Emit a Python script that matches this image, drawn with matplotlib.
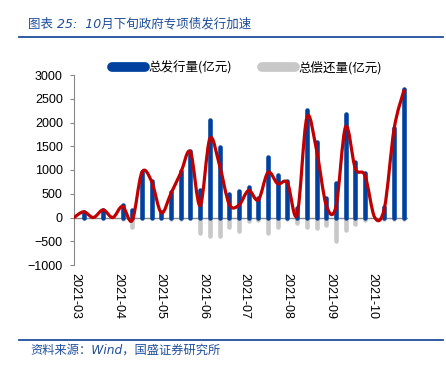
import matplotlib
matplotlib.use('Agg')
import matplotlib.pyplot as plt
import matplotlib.dates as mdates
import numpy as np
import pandas as pd
from matplotlib.path import Path
from matplotlib.patches import PathPatch
from matplotlib.lines import Line2D

plt.rcParams['font.family'] = ['Liberation Sans', 'Noto Sans CJK SC', 'DejaVu Sans']

# weekly data, 2021-02-28 .. 2021-10-24
weeks = ['2021-02-28', '2021-03-07', '2021-03-14', '2021-03-21', '2021-03-28',
         '2021-04-04', '2021-04-11', '2021-04-18', '2021-04-25', '2021-05-02',
         '2021-05-09', '2021-05-16', '2021-05-23', '2021-05-30', '2021-06-06',
         '2021-06-13', '2021-06-20', '2021-06-27', '2021-07-04', '2021-07-11',
         '2021-07-18', '2021-07-25', '2021-08-01', '2021-08-08', '2021-08-15',
         '2021-08-22', '2021-08-29', '2021-09-05', '2021-09-12', '2021-09-19',
         '2021-09-26', '2021-10-03', '2021-10-10', '2021-10-17', '2021-10-24']
issue = [0, 125, 0, 165, 0, 255, 150, 950, 770, 110, 540, 980, 1400, 575, 2050,
         1490, 490, 550, 640, 420, 1280, 900, 760, 190, 2270, 1600, 420, 730,
         2170, 1160, 930, 0, 230, 1880, 2700]
repay = [0, 0, 0, 0, 0, -30, -200, 0, -10, 0, -30, -40, -20, -320, -390,
         -390, -210, -290, -70, -50, -330, -200, -40, -120, -190, -220, -150,
         -500, -270, -130, -60, 0, -40, -30, -30]
net = [0, 120, 0, 160, 0, 235, -60, 950, 760, 100, 510, 940, 1380, 250, 1660,
       1100, 280, 260, 570, 370, 950, 710, 730, 60, 2100, 1420, 260, 225,
       1910, 1030, 880, 0, 200, 1870, 2670]
month_ticks = ['2021-03-01', '2021-04-01', '2021-05-01', '2021-06-01',
               '2021-07-01', '2021-08-01', '2021-09-01', '2021-10-01']

blue = '#0041A0'
grey = '#C8C8C8'
red = '#C00000'
navy = '#1F4E9C'

x = mdates.date2num(pd.to_datetime(weeks))

fig = plt.figure(figsize=(4.46, 3.76), dpi=100)
ax = fig.add_axes([74 / 446, 1 - 265 / 376, 334 / 446, 190 / 376])

ax.axhline(0, color='#888888', lw=1, zorder=1)
ax.vlines(x, 0, repay, color=grey, lw=3.3, capstyle='round', zorder=2)
ax.vlines(x, 0, issue, color=blue, lw=3.3, capstyle='round', zorder=3)

# smoothed net line (bezier through points)
p = np.column_stack([x, net])
verts = [p[0]]
codes = [Path.MOVETO]
for i in range(len(p) - 1):
    p0 = p[i - 1] if i > 0 else p[i]
    p3 = p[i + 2] if i + 2 < len(p) else p[i + 1]
    c1 = p[i] + (p[i + 1] - p0) / 6
    c2 = p[i + 1] - (p3 - p[i]) / 6
    verts += [c1, c2, p[i + 1]]
    codes += [Path.CURVE4] * 3
ax.add_patch(PathPatch(Path(verts, codes), fill=False, edgecolor=red, lw=2.3,
                       capstyle='round', joinstyle='round', zorder=4))

ax.set_ylim(-1000, 3000)
ax.set_yticks(range(-1000, 3001, 500))
ax.set_xlim(x[0], x[-1] + 3)
ax.set_xticks(mdates.date2num(pd.to_datetime(month_ticks)))
ax.set_xticklabels([m[:7] for m in month_ticks], rotation=-90, va='top', ha='center')
ax.tick_params(axis='x', length=0, pad=6, labelsize=9)
ax.tick_params(axis='y', length=3, pad=5, labelsize=9, color='#888888')
for s in ['top', 'right', 'bottom']:
    ax.spines[s].set_visible(False)
ax.spines['left'].set_color('#888888')

handles = [Line2D([], [], color=blue, lw=7, solid_capstyle='round'),
           Line2D([], [], color=grey, lw=7, solid_capstyle='round')]
fig.legend(handles, ['总发行量(亿元)', '总偿还量(亿元)'], ncol=2, frameon=False,
           loc='center', bbox_to_anchor=(247 / 446, 1 - 68 / 376),
           handlelength=2.6, handletextpad=0.3, columnspacing=2.4,
           prop={'family': ['Noto Sans CJK SC'], 'size': 9})

fig.text(28 / 446, 1 - 24 / 376, '图表 25:  10月下旬政府专项债发行加速', color=navy,
         fontsize=9, style='italic', va='center', ha='left',
         family=['DejaVu Sans', 'Noto Sans CJK SC'])
fig.add_artist(Line2D([19 / 446, 443 / 446], [1 - 37 / 376] * 2, color=navy, lw=1.3))
fig.add_artist(Line2D([19 / 446, 443 / 446], [1 - 340 / 376] * 2, color=navy, lw=1.3))
fig.text(30 / 446, 1 - 350 / 376, '资料来源：Wind，国盛证券研究所', color=navy,
         fontsize=8.8, style='italic', va='center', ha='left',
         family=['DejaVu Sans', 'Noto Sans CJK SC'])

fig.savefig('out.png', dpi=100)
